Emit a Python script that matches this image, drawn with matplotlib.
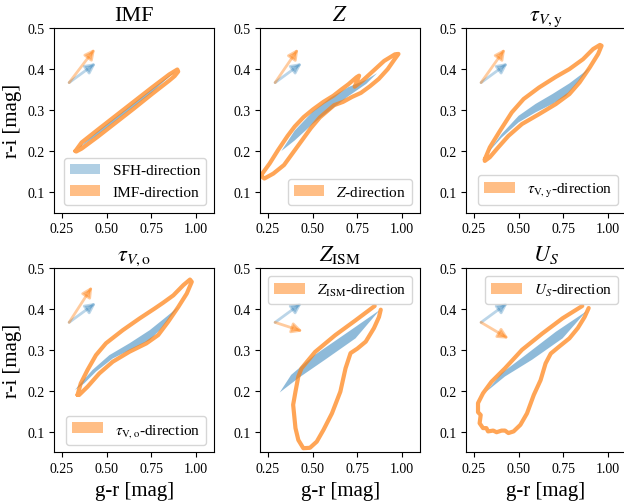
import numpy as np
import matplotlib
matplotlib.use("Agg")
import matplotlib.pyplot as plt
from matplotlib.patches import Patch

plt.rcParams["font.family"] = ["Liberation Serif", "DejaVu Serif"]
plt.rcParams["mathtext.fontset"] = "stix"

# panel titles and legend labels
titles = ["IMF", r"$Z$", r"$\tau_{V,\mathrm{y}}$",
          r"$\tau_{V,\mathrm{o}}$", r"$Z_\mathrm{ISM}$", r"$U_S$"]
labels = ["IMF-direction", r"$Z$-direction", r"$\tau_{\rm V,y}$-direction",
          r"$\tau_{\rm V,o}$-direction", r"$Z_{\rm ISM}$-direction", r"$U_S$-direction"]
legend_loc = ["lower right", "lower right", "lower right",
              "lower right", "upper right", "upper right"]

# SFH region outlines (g-r, r-i), one closed outline per panel
sfh_x = [
    [0.335, 0.45, 0.55, 0.65, 0.75, 0.885, 0.75, 0.65, 0.55, 0.45, 0.335],
    [0.325, 0.40, 0.50, 0.60, 0.70, 0.80, 0.86, 0.80, 0.70, 0.60, 0.50, 0.40, 0.325],
    [0.33, 0.405, 0.50, 0.595, 0.689, 0.784, 0.86, 0.902,
     0.822, 0.765, 0.689, 0.595, 0.50, 0.405, 0.347, 0.33],
    [0.322, 0.421, 0.515, 0.628, 0.741, 0.835, 0.902,
     0.797, 0.741, 0.647, 0.534, 0.44, 0.374, 0.322],
    [0.316, 0.38, 0.51, 0.70, 0.875, 0.74, 0.57, 0.42, 0.316],
    [0.32, 0.405, 0.538, 0.708, 0.879, 0.746, 0.576, 0.424, 0.32],
]
sfh_y = [
    [0.205, 0.248, 0.282, 0.316, 0.350, 0.395, 0.342, 0.308, 0.274, 0.240, 0.205],
    [0.200, 0.250, 0.296, 0.330, 0.356, 0.374, 0.390, 0.364, 0.334, 0.300, 0.266, 0.226, 0.200],
    [0.197, 0.2415, 0.286, 0.315, 0.339, 0.365, 0.390, 0.405,
     0.3634, 0.335, 0.315, 0.2944, 0.270, 0.233, 0.205, 0.197],
    [0.202, 0.251, 0.287, 0.316, 0.348, 0.381, 0.405,
     0.348, 0.324, 0.3035, 0.279, 0.2468, 0.218, 0.202],
    [0.196, 0.239, 0.287, 0.344, 0.397, 0.328, 0.276, 0.231, 0.196],
    [0.198, 0.243, 0.287, 0.344, 0.394, 0.328, 0.276, 0.235, 0.198],
]

# parameter-direction tracks (g-r, r-i)
track_x = [
    [0.325, 0.36, 0.45, 0.55, 0.65, 0.75, 0.85, 0.895,
     0.90, 0.88, 0.85, 0.75, 0.65, 0.55, 0.45, 0.36, 0.33, 0.325],
    [0.21, 0.26, 0.306, 0.36, 0.40, 0.45, 0.503, 0.56, 0.616, 0.66, 0.70, 0.745, 0.76,
     0.735, 0.78, 0.84, 0.90, 0.96, 0.98,
     0.96, 0.92, 0.87, 0.82, 0.77, 0.72, 0.67, 0.62, 0.58, 0.54, 0.49, 0.44, 0.39,
     0.34, 0.28, 0.23, 0.21],
    [0.311, 0.339, 0.396, 0.462, 0.528, 0.614, 0.708, 0.784, 0.86, 0.917, 0.955, 0.964,
     0.945, 0.898, 0.841, 0.784, 0.708, 0.614, 0.519, 0.443, 0.386, 0.339, 0.311, 0.311],
    [0.337, 0.355, 0.393, 0.44, 0.496, 0.59, 0.684, 0.769, 0.816, 0.873, 0.929, 0.966, 0.976,
     0.948, 0.901, 0.844, 0.788, 0.722, 0.628, 0.534, 0.459, 0.393, 0.346, 0.337],
    [0.847, 0.74, 0.627, 0.514, 0.438, 0.42, 0.404, 0.391, 0.404, 0.42, 0.448, 0.485,
     0.523, 0.561, 0.608, 0.655, 0.684, 0.712, 0.75, 0.797, 0.843, 0.871, 0.881],
    [0.856, 0.746, 0.633, 0.519, 0.424, 0.348, 0.301, 0.273, 0.273, 0.288, 0.282,
     0.301, 0.32, 0.329, 0.358, 0.377, 0.405, 0.424, 0.443, 0.472, 0.51, 0.547,
     0.585, 0.623, 0.651, 0.68, 0.727, 0.784, 0.831, 0.869, 0.892],
]
track_y = [
    [0.200, 0.221, 0.252, 0.286, 0.320, 0.354, 0.387, 0.399,
     0.394, 0.383, 0.372, 0.338, 0.303, 0.269, 0.235, 0.206, 0.199, 0.200],
    [0.140, 0.170, 0.202, 0.237, 0.260, 0.283, 0.302, 0.320, 0.335, 0.350, 0.363, 0.380, 0.384,
     0.357, 0.372, 0.396, 0.420, 0.436, 0.437,
     0.425, 0.400, 0.376, 0.358, 0.342, 0.332, 0.320, 0.312, 0.297, 0.282, 0.256, 0.226, 0.196,
     0.166, 0.145, 0.133, 0.140],
    [0.180, 0.209, 0.2495, 0.2944, 0.327, 0.355, 0.381, 0.400, 0.424, 0.449, 0.459, 0.457,
     0.437, 0.404, 0.3675, 0.339, 0.3146, 0.290, 0.266, 0.237, 0.209, 0.185, 0.176, 0.180],
    [0.190, 0.218, 0.251, 0.287, 0.316, 0.348, 0.3766, 0.401, 0.415, 0.433, 0.458, 0.4715, 0.466,
     0.4374, 0.405, 0.3685, 0.336, 0.3157, 0.2955, 0.271, 0.2426, 0.210, 0.190, 0.190],
    [0.407, 0.372, 0.336, 0.295, 0.255, 0.235, 0.198, 0.166, 0.109, 0.080, 0.060, 0.061,
     0.076, 0.105, 0.145, 0.198, 0.255, 0.292, 0.303, 0.320, 0.353, 0.380, 0.398],
    [0.407, 0.377, 0.340, 0.300, 0.255, 0.222, 0.194, 0.170, 0.148, 0.141, 0.121,
     0.109, 0.109, 0.101, 0.103, 0.099, 0.103, 0.103, 0.097, 0.101, 0.117, 0.145,
     0.190, 0.226, 0.267, 0.291, 0.308, 0.328, 0.353, 0.380, 0.402],
]

# direction arrows: common origin, SFH tip, parameter tip
arrow_start = (0.29, 0.367)
sfh_tip = (0.44, 0.415)
param_tip = [(0.435, 0.45), (0.42, 0.45), (0.425, 0.45),
             (0.42, 0.455), (0.445, 0.345), (0.445, 0.327)]

fig, axes = plt.subplots(2, 3, figsize=(6.24, 5.02), dpi=100)
fig.subplots_adjust(left=0.087, right=1.003, top=0.942, bottom=0.097,
                    wspace=0.29, hspace=0.30)

for i, ax in enumerate(axes.flat):
    ax.fill(sfh_x[i], sfh_y[i], color="C0", alpha=0.5, lw=0)
    ax.plot(track_x[i], track_y[i], color="C1", alpha=0.7, lw=3,
            solid_joinstyle="round", solid_capstyle="round")

    ax.annotate("", xy=sfh_tip, xytext=arrow_start,
                arrowprops=dict(arrowstyle="-|>", color="C0", alpha=0.3, lw=2,
                                mutation_scale=15, shrinkA=0, shrinkB=0))
    ax.annotate("", xy=param_tip[i], xytext=arrow_start,
                arrowprops=dict(arrowstyle="-|>", color="C1", alpha=0.4, lw=2,
                                mutation_scale=15, shrinkA=0, shrinkB=0))

    handles = [Patch(color="C1", alpha=0.5, lw=0, label=labels[i])]
    if i == 0:
        handles.insert(0, Patch(color="C0", alpha=0.35, lw=0, label="SFH-direction"))
    ax.legend(handles=handles, loc=legend_loc[i], fontsize=11)

    ax.set_xlim(0.207, 1.1)
    ax.set_ylim(0.05, 0.5)
    ax.set_xticks([0.25, 0.5, 0.75, 1.0])
    ax.set_yticks([0.1, 0.2, 0.3, 0.4, 0.5])
    ax.tick_params(labelsize=10)
    ax.set_title(titles[i], fontsize=16)
    if i % 3 == 0:
        ax.set_ylabel("r-i [mag]", fontsize=15)
    if i >= 3:
        ax.set_xlabel("g-r [mag]", fontsize=15)

fig.savefig("out.png", dpi=100)
